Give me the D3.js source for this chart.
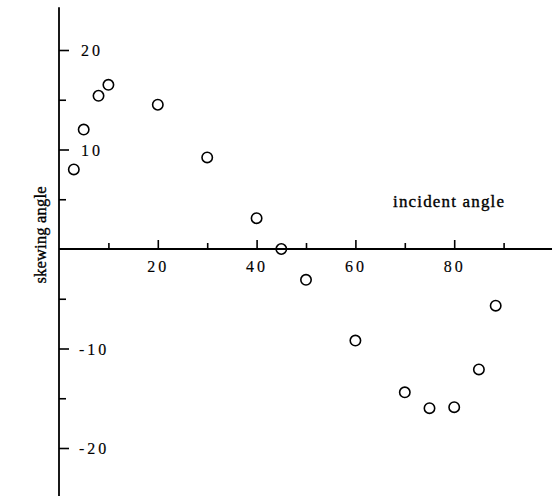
<!DOCTYPE html>
<html><head><meta charset="utf-8">
<script src="https://cdn.jsdelivr.net/npm/d3@7"></script>
<style>body{margin:0;background:#fff}svg{display:block}text{font-family:"Liberation Serif","DejaVu Serif",serif;fill:#000}.title{stroke:#000;stroke-width:0.35px}.tl{stroke:#000;stroke-width:0.15px}</style>
</head><body>
<svg id="c" width="557" height="496"></svg>
<script>
const incidentAngle = [3, 5, 8, 10, 20, 30, 40, 45, 50, 60, 70, 75, 80, 85, 88.4];
const skewingAngle  = [8.0, 12.0, 15.4, 16.5, 14.5, 9.2, 3.1, 0, -3.1, -9.2, -14.4, -16.0, -15.9, -12.1, -5.7];
const xTicks = [10, 20, 30, 40, 50, 60, 70, 80, 90];
const xTickLabels = [20, 40, 60, 80];
const yTicks = [-20, -15, -10, -5, 5, 10, 15, 20];
const yTickLabels = [20, 10, -10, -20];

const svg = d3.select("#c");
const x = d3.scaleLinear().domain([0, 100]).range([59, 553]);
const y = d3.scaleLinear().domain([-25, 25]).range([497.75, 0.25]);
const x0 = x(0), y0 = y(0);

// axes lines
svg.append("line").attr("x1", x0).attr("x2", x0).attr("y1", y(24.3)).attr("y2", y(-25))
  .attr("stroke", "#000").attr("stroke-width", 1.8);
svg.append("line").attr("x1", x0).attr("x2", x(99.8)).attr("y1", y0).attr("y2", y0)
  .attr("stroke", "#000").attr("stroke-width", 1.8);

// x ticks (pointing up)
const xAxis = d3.axisTop(x).tickValues(xTicks).tickSize(0).tickFormat("");
const gx = svg.append("g").attr("transform", `translate(0,${y0})`).call(xAxis);
gx.select(".domain").remove();
gx.selectAll(".tick").append("line")
  .attr("y1", 0).attr("y2", d => xTickLabels.includes(d) ? -9 : -6)
  .attr("stroke", "#000").attr("stroke-width", 1.6);
gx.selectAll(".tick").filter(d => xTickLabels.includes(d)).append("text")
  .attr("class", "tl").attr("y", 23).attr("text-anchor", "middle")
  .style("font-size", "16px").style("letter-spacing", "3px")
  .text(d => d);

// y ticks (pointing right)
const yAxis = d3.axisRight(y).tickValues(yTicks).tickSize(0).tickFormat("");
const gy = svg.append("g").attr("transform", `translate(${x0},0)`).call(yAxis);
gy.select(".domain").remove();
gy.selectAll(".tick").append("line")
  .attr("x1", 0).attr("x2", d => yTickLabels.includes(d) ? 10 : 7)
  .attr("stroke", "#000").attr("stroke-width", 1.6);
gy.selectAll(".tick").filter(d => yTickLabels.includes(d)).append("text")
  .attr("class", "tl").attr("x", d => d < 0 ? 20 : 22).attr("dy", "0.35em").attr("text-anchor", "start")
  .style("font-size", "16px").style("letter-spacing", "3px")
  .text(d => d < 0 ? "-" + Math.abs(d) : d);

// points
svg.append("g").selectAll("circle").data(incidentAngle).join("circle")
  .attr("cx", d => x(d)).attr("cy", (d, i) => y(skewingAngle[i]))
  .attr("r", 5.2).attr("fill", "none").attr("stroke", "#000").attr("stroke-width", 1.6);

// axis titles
svg.append("text").attr("class", "title").attr("x", 393).attr("y", 207)
  .attr("textLength", 111).attr("lengthAdjust", "spacing")
  .style("font-size", "17px").text("incident angle");
svg.append("text").attr("class", "title").attr("transform", "translate(46,235) rotate(-90)")
  .attr("text-anchor", "middle").attr("textLength", 97).attr("lengthAdjust", "spacing")
  .style("font-size", "16.5px").text("skewing angle");
</script>
</body></html>
